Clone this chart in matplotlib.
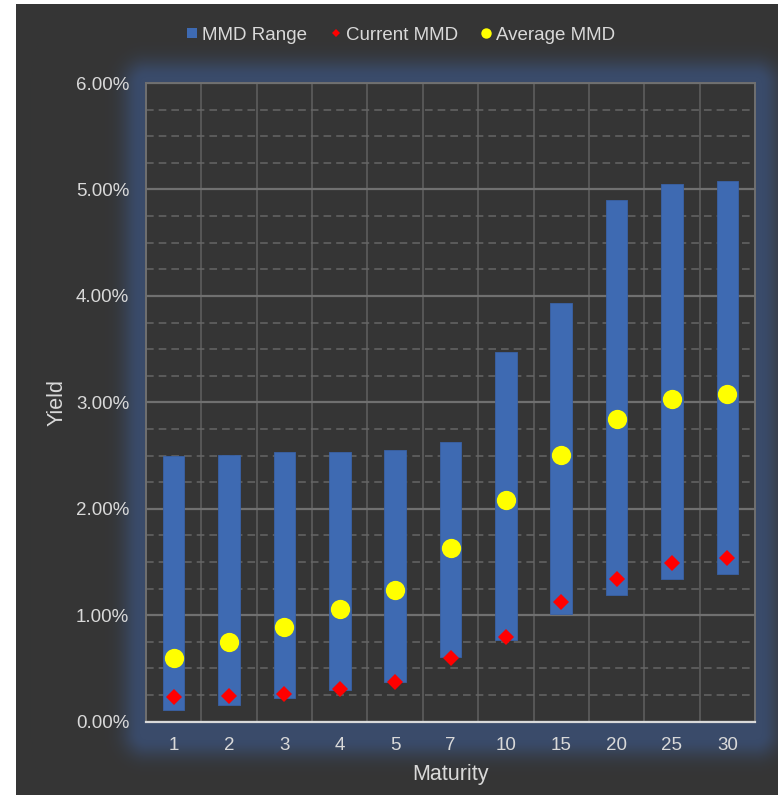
import numpy as np
import matplotlib
matplotlib.use('Agg')
import matplotlib.pyplot as plt
from matplotlib.lines import Line2D

## Datos (rendimientos en %)
maturity = ['1', '2', '3', '4', '5', '7', '10', '15', '20', '25', '30']
range_low = [0.11, 0.16, 0.22, 0.30, 0.37, 0.61, 0.77, 1.01, 1.19, 1.34, 1.39]
range_high = [2.50, 2.51, 2.53, 2.53, 2.55, 2.63, 3.47, 3.93, 4.90, 5.05, 5.08]
current_mmd = [0.23, 0.24, 0.26, 0.31, 0.37, 0.60, 0.80, 1.12, 1.34, 1.49, 1.54]
average_mmd = [0.60, 0.75, 0.89, 1.06, 1.24, 1.63, 2.08, 2.51, 2.84, 3.03, 3.08]

## Colores
bg_dark = '#353535'
txt_col = '#d9d9d9'
bar_col = '#3e6ab2'
grid_col = '#707070'

plt.rcParams['font.family'] = ['Liberation Sans', 'DejaVu Sans']

W, H = 778, 795
fig = plt.figure(figsize=(W / 100, H / 100), dpi=100, facecolor='white')

## Fondo oscuro con el "glow" azul alrededor del area del grafico
yy, xx = np.mgrid[0:H, 0:W]
x0, x1, y0, y1 = 146, 755, 83, 733
dx = np.maximum(np.maximum(x0 - xx, xx - x1), 0)
dy = np.maximum(np.maximum(y0 - yy, yy - y1), 0)
dist = np.hypot(dx, dy)
alpha = np.exp(-(np.maximum(dist - 6, 0) / 18.0) ** 2)[..., None]
dark = np.array([53, 53, 53]) / 255
glow = np.array([58, 75, 106]) / 255
img = dark * (1 - alpha) + glow * alpha
img[:, :16] = 1.0
img[:4, :] = 1.0

bgax = fig.add_axes([0, 0, 1, 1], zorder=-1)
bgax.imshow(img, aspect='auto')
bgax.axis('off')

## Area principal
ax = fig.add_axes([146 / W, 1 - 721.7 / H, 609 / W, (721.7 - 83) / H])
ax.set_facecolor(bg_dark)

x = np.arange(len(maturity))
heights = np.array(range_high) - np.array(range_low)
ax.bar(x, heights, bottom=range_low, width=0.39, color=bar_col,
       edgecolor='#3a62a6', linewidth=0.6, zorder=2)
ax.plot(x, average_mmd, linestyle='none', marker='o', markersize=13.9,
        color='#ffff00', markeredgewidth=0, zorder=3)
ax.plot(x, current_mmd, linestyle='none', marker='D', markersize=8.4,
        color='#ff0000', markeredgewidth=0, zorder=4)

ax.set_xlim(-0.5, len(maturity) - 0.5)
ax.set_ylim(0, 6)
ax.set_xticks(x)
ax.set_xticklabels(maturity)
ax.set_xticks(np.arange(0.5, len(maturity) - 1, 1), minor=True)
ax.set_yticks(np.arange(0, 7, 1))
ax.set_yticklabels(['%.2f%%' % v for v in np.arange(0, 7, 1)])
ax.set_yticks(np.arange(0, 6.01, 0.25), minor=True)

ax.set_axisbelow(True)
ax.grid(which='major', axis='y', color=grid_col, linewidth=1.6)
ax.grid(which='minor', axis='y', color='#666666', linewidth=1.1,
        linestyle=(0, (5.0, 3.3)))
ax.grid(which='minor', axis='x', color='#616161', linewidth=1.1)

ax.tick_params(which='both', length=0, colors=txt_col, labelsize=13.5)
ax.tick_params(axis='y', pad=12)
ax.tick_params(axis='x', pad=11)

for s in ['left', 'top', 'right']:
    ax.spines[s].set_color(grid_col)
    ax.spines[s].set_linewidth(1.4)
ax.spines['bottom'].set_color(txt_col)
ax.spines['bottom'].set_linewidth(1.6)

ax.set_ylabel('Yield', color=txt_col, fontsize=15.5)
ax.yaxis.set_label_coords(-0.128, 0.5)
ax.set_xlabel('Maturity', color=txt_col, fontsize=15.5)
ax.xaxis.set_label_coords(0.5, -0.066)

## Leyenda
handles = [
    Line2D([], [], linestyle='none', marker='s', markersize=7.5,
           color=bar_col, markeredgewidth=0),
    Line2D([], [], linestyle='none', marker='D', markersize=3.8,
           color='#ff0000', markeredgewidth=0),
    Line2D([], [], linestyle='none', marker='o', markersize=7.5,
           color='#ffff00', markeredgewidth=0),
]
fig.legend(handles, ['MMD Range', 'Current MMD', 'Average MMD'], ncol=3,
           loc='center', bbox_to_anchor=(401 / W, 1 - 35 / H), frameon=False,
           fontsize=13.5, labelcolor=txt_col, handlelength=0.6,
           handletextpad=0.25, columnspacing=1.2)

fig.savefig('out.png', dpi=100, facecolor='white')
